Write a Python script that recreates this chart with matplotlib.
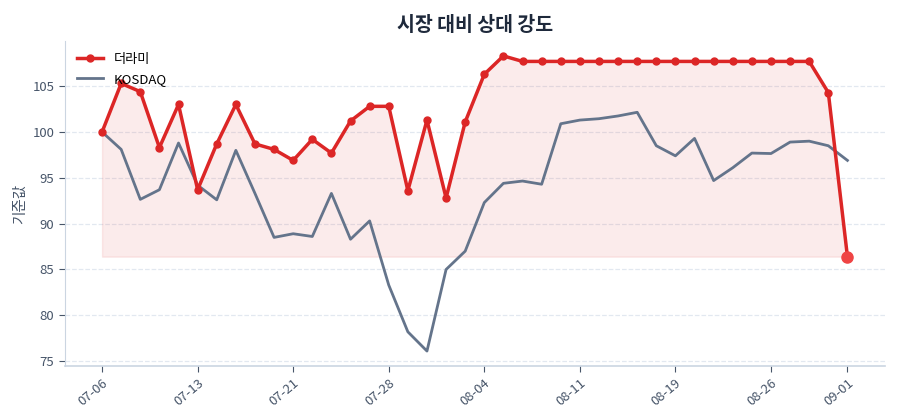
import numpy as np
import matplotlib
matplotlib.use("Agg")
import matplotlib.pyplot as plt

plt.rcParams['font.family'] = ['Noto Sans CJK KR', 'DejaVu Sans']

dates = ["07-06", "07-07", "07-08", "07-09", "07-10", "07-13", "07-14", "07-15", "07-16", "07-17",
         "07-21", "07-22", "07-23", "07-24", "07-25", "07-28", "07-29", "07-30", "07-31", "08-01",
         "08-04", "08-05", "08-06", "08-07", "08-08", "08-11", "08-12", "08-13", "08-14", "08-18",
         "08-19", "08-20", "08-21", "08-22", "08-25", "08-26", "08-27", "08-28", "08-29", "09-01"]

stock = [100.0, 105.3, 104.4, 98.3, 103.0, 93.7, 98.7, 103.0, 98.7, 98.1,
         96.9, 99.2, 97.7, 101.2, 102.8, 102.8, 93.6, 101.3, 92.8, 101.1,
         106.3, 108.3, 107.7, 107.7, 107.7, 107.7, 107.7, 107.7, 107.7, 107.7,
         107.7, 107.7, 107.7, 107.7, 107.7, 107.7, 107.7, 107.7, 104.3, 86.4]

kosdaq = [100.0, 98.1, 92.65, 93.7, 98.8, 94.2, 92.6, 98.0, 93.3, 88.5,
          88.9, 88.6, 93.3, 88.3, 90.3, 83.3, 78.2, 76.1, 85.0, 87.0,
          92.3, 94.4, 94.65, 94.3, 100.9, 101.3, 101.45, 101.75, 102.15, 98.5,
          97.4, 99.3, 94.7, 96.1, 97.7, 97.65, 98.9, 99.0, 98.5, 96.9]

stock_name = "더라미"
index_name = "KOSDAQ"

x = np.arange(len(dates))
s = np.array(stock)
k = np.array(kosdaq)

fig = plt.figure(figsize=(9, 4.2), dpi=100)
ax = fig.add_axes([0.072, 0.129, 0.911, 0.773])

# 음영: 종목 라인과 최저점 사이
ax.fill_between(x, s, s.min(), color='#dc2626', alpha=0.09, linewidth=1)
ax.plot(x, s, color='#dc2626', lw=2.5, marker='o', ms=5, label=stock_name, zorder=3)
ax.plot(x, k, color='#64748b', lw=2, label=index_name, zorder=2)
ax.plot(x[-1], s[-1], 'o', color='#ef4444', ms=8, zorder=4)

ax.set_title("시장 대비 상대 강도", fontsize=14, fontweight='bold', color='#1e293b', pad=7)
ax.set_ylabel("기준값", fontsize=10.5, color='#475569')

ticks = list(range(0, len(dates), 5))
if ticks[-1] != len(dates) - 1:
    ticks.append(len(dates) - 1)
ax.set_xticks(ticks)
ax.set_xticklabels([dates[i] for i in ticks], rotation=40, ha='right', rotation_mode='anchor')
ax.set_yticks([75, 80, 85, 90, 95, 100, 105])

ax.tick_params(colors='#475569', labelsize=9.5)
ax.tick_params(axis='both', color='#475569', length=4)
ax.grid(axis='y', linestyle='--', color='#e2e8f0', linewidth=0.9)
ax.set_axisbelow(True)
for sp in ['top', 'right']:
    ax.spines[sp].set_visible(False)
ax.spines['left'].set_color('#cbd5e1')
ax.spines['bottom'].set_color('#cbd5e1')
ax.spines['bottom'].set_linewidth(1.2)

ax.legend(loc='upper left', frameon=False, fontsize=9.5)

fig.savefig("out.png", dpi=100)
